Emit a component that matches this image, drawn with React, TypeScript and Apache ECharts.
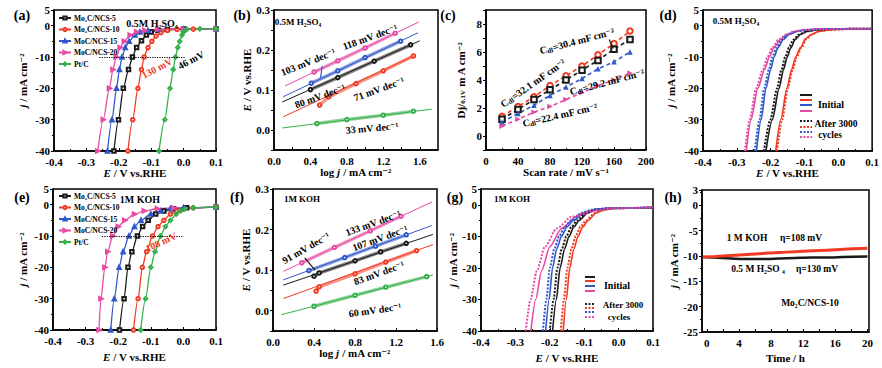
import React, { useEffect, useRef } from 'react';
import * as echarts from 'echarts';

const FONT = '"Liberation Serif", "DejaVu Serif", serif';
const K = '#1a1a1a', R = '#f03a24', B = '#2f57c9', P = '#e64aa3', G = '#34b04a';

// ---------- (a) 0.5 M H2SO4 polarization curves [E V vs RHE, j mA cm-2]
const legendNames = ['Mo₂C/NCS-5', 'Mo₂C/NCS-10', 'MoC/NCS-15', 'MoC/NCS-20', 'Pt/C'];
const aNcs5 = [[-0.215,-40],[-0.201,-30],[-0.186,-20],[-0.17,-14],[-0.158,-10],[-0.145,-7],[-0.13,-4.8],[-0.115,-3],[-0.1,-2],[-0.08,-1.5],[-0.05,-1.2],[0,-1.1],[0.1,-1.0]];
const aNcs10 = [[-0.172,-40],[-0.157,-30],[-0.141,-20],[-0.13,-14],[-0.122,-10],[-0.11,-7],[-0.098,-5],[-0.085,-3.3],[-0.07,-2.2],[-0.05,-1.5],[-0.02,-1.2],[0.03,-1.1],[0.1,-1]];
const aNcs15 = [[-0.235,-40],[-0.221,-30],[-0.207,-20],[-0.198,-14],[-0.19,-10],[-0.18,-7],[-0.168,-5],[-0.15,-3],[-0.135,-2],[-0.11,-1.5],[-0.08,-1.2],[0,-1.1],[0.1,-1]];
const aNcs20 = [[-0.265,-40],[-0.248,-30],[-0.229,-20],[-0.218,-14],[-0.208,-10],[-0.196,-7],[-0.183,-5],[-0.165,-3],[-0.145,-2],[-0.12,-1.5],[-0.08,-1.2],[0,-1.1],[0.1,-1]];
const aPtC = [[-0.076,-40],[-0.058,-30],[-0.042,-20],[-0.032,-14],[-0.025,-10],[-0.018,-7],[-0.012,-5],[-0.005,-3],[0,-2],[0.01,-1.2],[0.05,-1],[0.1,-1]];

// ---------- (b) Tafel 0.5 M H2SO4 [log j, E]
const bFit20 = [[0.12,0.11],[1.59,0.27]];
const bBand20 = [[0.44,0.145],[0.7,0.173],[1.0,0.205],[1.33,0.242]];
const bFit15 = [[0.10,0.083],[1.58,0.243]];
const bBand15 = [[0.41,0.117],[0.7,0.148],[1.0,0.181],[1.39,0.222]];
const bFit5 = [[0.09,0.07],[1.6,0.223]];
const bBand5 = [[0.4,0.101],[0.7,0.131],[1.1,0.172],[1.5,0.213]];
const bFit10 = [[0.1,0.033],[1.56,0.188]];
const bBand10 = [[0.5,0.062],[0.6,0.083],[0.9,0.116],[1.2,0.148],[1.53,0.185]];
const bFitPt = [[0.09,0.005],[1.73,0.052]];
const bBandPt = [[0.47,0.016],[0.8,0.026],[1.2,0.037],[1.53,0.047]];

// ---------- (c) capacitive current vs scan rate
const cRate = [20, 40, 60, 80, 100, 120, 140, 160, 180];
const cRed = [1.4, 2.1, 2.8, 3.6, 4.3, 5.0, 5.8, 6.6, 7.5];
const cBlack = [1.2, 1.9, 2.6, 3.3, 4.0, 4.7, 5.4, 6.2, 6.9];
const cBlue = [1.0, 1.6, 2.2, 2.9, 3.5, 4.1, 4.8, 5.3, 6.0];
const cPink = [0.7, 1.2, 1.7, 2.1, 2.6, 3.1, 3.6, 4.0, 4.5];

// ---------- (d) stability 0.5 M H2SO4, initial / after 3000 cycles
const dK0 = [[-0.214,-40],[-0.195,-30],[-0.175,-20],[-0.162,-14],[-0.151,-10],[-0.14,-7],[-0.128,-4.5],[-0.112,-2.8],[-0.09,-1.8],[-0.06,-1.3],[-0.02,-1.1],[0.05,-1.0],[0.1,-1.0]];
const dR0 = [[-0.185,-40],[-0.17,-30],[-0.152,-20],[-0.138,-14],[-0.126,-10],[-0.112,-7],[-0.097,-4.2],[-0.08,-2.8],[-0.058,-1.8],[-0.03,-1.4],[0.0,-1.2],[0.04,-1.0],[0.1,-1.0]];
const dB0 = [[-0.242,-40],[-0.228,-30],[-0.214,-20],[-0.2,-14],[-0.19,-10],[-0.178,-7],[-0.163,-4.5],[-0.145,-2.8],[-0.12,-1.8],[-0.09,-1.3],[-0.05,-1.1],[0.05,-1],[0.1,-1]];
const dP0 = [[-0.272,-40],[-0.258,-30],[-0.238,-20],[-0.218,-14],[-0.204,-10],[-0.19,-7],[-0.172,-4.5],[-0.15,-2.8],[-0.125,-1.8],[-0.095,-1.3],[-0.05,-1.1],[0.05,-1],[0.1,-1]];
const dK1 = [[-0.22,-40],[-0.201,-30],[-0.181,-20],[-0.168,-14],[-0.157,-10],[-0.146,-7],[-0.133,-4.5],[-0.116,-2.8],[-0.094,-1.8],[-0.064,-1.3],[-0.02,-1.1],[0.05,-1],[0.1,-1]];
const dR1 = [[-0.181,-40],[-0.166,-30],[-0.149,-20],[-0.135,-14],[-0.123,-10],[-0.109,-7],[-0.094,-4.2],[-0.077,-2.8],[-0.055,-1.8],[-0.028,-1.4],[0.0,-1.2],[0.04,-1],[0.1,-1]];
const dB1 = [[-0.247,-40],[-0.233,-30],[-0.219,-20],[-0.205,-14],[-0.195,-10],[-0.183,-7],[-0.168,-4.5],[-0.15,-2.8],[-0.124,-1.8],[-0.093,-1.3],[-0.05,-1.1],[0.05,-1],[0.1,-1]];
const dP1 = [[-0.276,-40],[-0.262,-30],[-0.243,-20],[-0.223,-14],[-0.209,-10],[-0.195,-7],[-0.177,-4.5],[-0.155,-2.8],[-0.13,-1.8],[-0.1,-1.3],[-0.05,-1.1],[0.05,-1],[0.1,-1]];

// ---------- (e) 1 M KOH polarization curves
const eNcs5 = [[-0.196,-40],[-0.182,-30],[-0.17,-20],[-0.158,-15],[-0.141,-10],[-0.125,-7],[-0.108,-5],[-0.085,-3],[-0.06,-2],[-0.03,-1.3],[0.01,-1],[0.1,-0.8]];
const eNcs10 = [[-0.153,-40],[-0.139,-30],[-0.126,-20],[-0.113,-15],[-0.095,-10],[-0.078,-7],[-0.06,-5],[-0.04,-3],[-0.02,-2],[0.0,-1.4],[0.03,-1],[0.1,-0.8]];
const eNcs15 = [[-0.223,-40],[-0.212,-30],[-0.197,-20],[-0.185,-15],[-0.167,-10],[-0.15,-7],[-0.13,-5],[-0.1,-3],[-0.07,-2],[-0.04,-1.3],[0,-1],[0.1,-0.8]];
const eNcs20 = [[-0.259,-40],[-0.253,-30],[-0.241,-20],[-0.232,-15],[-0.217,-10],[-0.2,-7],[-0.18,-5],[-0.15,-3],[-0.12,-2],[-0.08,-1.3],[-0.03,-1],[0.1,-0.8]];
const ePtC = [[-0.131,-40],[-0.116,-30],[-0.1,-20],[-0.087,-15],[-0.07,-10],[-0.055,-7],[-0.04,-5],[-0.022,-3],[-0.008,-2],[0.005,-1.3],[0.03,-1],[0.1,-0.8]];

// ---------- (f) Tafel 1 M KOH
const fFit20 = [[0.1,0.097],[1.55,0.268]];
const fBand20 = [[0.28,0.118],[0.6,0.156],[0.95,0.197],[1.25,0.233]];
const fFit15 = [[0.1,0.076],[1.55,0.21]];
const fBand15 = [[0.35,0.099],[0.7,0.131],[1.0,0.159],[1.3,0.187]];
const fFit5 = [[0.1,0.063],[1.56,0.188]];
const fBand5 = [[0.4,0.085],[0.45,0.093],[0.8,0.123],[1.05,0.145],[1.3,0.166]];
const fFit10 = [[0.1,0.03],[1.56,0.163]];
const fBand10 = [[0.42,0.048],[0.45,0.059],[0.8,0.091],[1.1,0.12],[1.4,0.148]];
const fFitPt = [[0.08,-0.01],[1.56,0.088]];
const fBandPt = [[0.4,0.011],[0.8,0.038],[1.1,0.058],[1.5,0.084]];

// ---------- (g) stability 1 M KOH
const gP0 = [[-0.255,-40],[-0.241,-30],[-0.224,-21],[-0.2,-13.3],[-0.166,-7.5],[-0.123,-3.7],[-0.065,-1.8],[-0.008,-1.1],[0.1,-0.8]];
const gP1 = [[-0.27,-40],[-0.256,-30],[-0.238,-21],[-0.214,-13.3],[-0.18,-7.5],[-0.135,-3.7],[-0.075,-1.8],[-0.012,-1.1],[0.1,-0.8]];
const gB0 = [[-0.212,-40],[-0.202,-30],[-0.192,-20],[-0.18,-14],[-0.166,-10],[-0.15,-7],[-0.132,-5],[-0.1,-2.5],[-0.07,-1.5],[-0.03,-1.1],[0.1,-0.9]];
const gB1 = [[-0.22,-40],[-0.21,-30],[-0.2,-20],[-0.187,-14],[-0.173,-10],[-0.157,-7],[-0.139,-5],[-0.106,-2.5],[-0.075,-1.5],[-0.03,-1.1],[0.1,-0.9]];
const gK0 = [[-0.192,-40],[-0.181,-30],[-0.17,-20],[-0.157,-14],[-0.144,-10],[-0.13,-7],[-0.115,-5],[-0.09,-2.6],[-0.065,-1.5],[-0.02,-1.1],[0.1,-0.9]];
const gK1 = [[-0.2,-40],[-0.189,-30],[-0.178,-20],[-0.165,-14],[-0.152,-10],[-0.137,-7],[-0.121,-5],[-0.095,-2.6],[-0.068,-1.5],[-0.02,-1.1],[0.1,-0.9]];
const gR0 = [[-0.161,-40],[-0.152,-30],[-0.142,-20],[-0.13,-14],[-0.118,-10],[-0.104,-7],[-0.089,-5],[-0.065,-2.6],[-0.04,-1.6],[-0.008,-1.1],[0.1,-0.9]];
const gR1 = [[-0.168,-40],[-0.159,-30],[-0.149,-20],[-0.137,-14],[-0.125,-10],[-0.111,-7],[-0.095,-5],[-0.07,-2.6],[-0.044,-1.6],[-0.01,-1.1],[0.1,-0.9]];

// ---------- (h) chronoamperometry [time h, j]
const hKOH = [[-0.5,-10.2],[1,-10.1],[3,-9.9],[5,-9.7],[7,-9.5],[9,-9.3],[11,-9.2],[13,-9.0],[15,-8.9],[17,-8.7],[20,-8.5]];
const hH2SO4 = [[-0.5,-10.2],[1,-10.3],[3,-10.5],[5,-10.6],[7,-10.6],[9,-10.5],[11,-10.4],[13,-10.3],[15,-10.3],[17,-10.2],[20,-10.1]];

// tick label sets
const tafelXLabels = [0, 0.4, 0.8, 1.2, 1.6];
const tafelXTicks = [0, 0.2, 0.4, 0.6, 0.8, 1.0, 1.2, 1.4, 1.6];
const tafelYLabels = [0, 0.1, 0.2, 0.3];
const tafelYTicks = [-0.05, 0, 0.05, 0.1, 0.15, 0.2, 0.25, 0.3];
const cYLabels = [0, 2, 4, 6, 8];
const cYTicks = [-1, 0, 1, 2, 3, 4, 5, 6, 7, 8, 9];
const hXLabels = [0, 4, 8, 12, 16, 20];
const hXTicks = [0, 2, 4, 6, 8, 10, 12, 14, 16, 18, 20];

const txtBase = { color: '#000', fontSize: 11, fontWeight: 'bold', fontFamily: FONT };
const richDefs = {
  i: { ...txtBase, fontStyle: 'italic' },
  s: { ...txtBase, fontSize: 7, verticalAlign: 'bottom', padding: [4, 0, 0, 0] },
};
const fmt1 = (v: number) => (Math.abs(v) < 1e-9 ? '0.0' : v.toFixed(1));

const grids = [
  { left: 54, top: 10, width: 162, height: 141 },
  { left: 274, top: 10, width: 164, height: 140 },
  { left: 486, top: 10, width: 160, height: 140 },
  { left: 703, top: 10, width: 170, height: 141 },
  { left: 53, top: 189, width: 163, height: 141 },
  { left: 273, top: 189, width: 164, height: 142 },
  { left: 481, top: 189, width: 172, height: 142 },
  { left: 702, top: 190, width: 167, height: 142 },
].map((g) => ({ ...g, show: true, borderColor: '#000', borderWidth: 1.5, backgroundColor: 'transparent' }));

function xAx(gi: number, o: any) {
  return {
    type: 'value', gridIndex: gi,
    axisLine: { show: true, onZero: false, lineStyle: { color: '#000', width: 1.5 } },
    axisTick: { show: true, inside: true, length: 3, lineStyle: { color: '#000' }, ...(o.tickCV ? { customValues: o.tickCV } : {}) },
    minorTick: { show: !o.tickCV, splitNumber: 2, length: 2, lineStyle: { color: '#000' } },
    splitLine: { show: false },
    axisLabel: { ...txtBase, margin: 5, ...(o.fmt ? { formatter: o.fmt } : {}), ...(o.labelCV ? { customValues: o.labelCV } : {}) },
    nameLocation: 'middle', nameTextStyle: { ...txtBase, rich: richDefs },
    min: o.min, max: o.max, ...(o.interval ? { interval: o.interval } : {}),
    name: o.name, nameGap: o.nameGap,
  };
}
function yAx(gi: number, o: any) {
  return {
    type: 'value', gridIndex: gi,
    axisLine: { show: true, onZero: false, lineStyle: { color: '#000', width: 1.5 } },
    axisTick: { show: true, inside: false, length: 3, lineStyle: { color: '#000' }, ...(o.tickCV ? { customValues: o.tickCV } : {}) },
    minorTick: { show: !o.tickCV, splitNumber: 2, length: 2, lineStyle: { color: '#000' } },
    splitLine: { show: false },
    axisLabel: { ...txtBase, margin: 4, ...(o.fmt ? { formatter: o.fmt } : {}), ...(o.labelCV ? { customValues: o.labelCV } : {}) },
    nameLocation: 'middle', nameRotate: 90, nameTextStyle: { ...txtBase, rich: richDefs },
    min: o.min, max: o.max, ...(o.interval ? { interval: o.interval } : {}),
    name: o.name, nameGap: o.nameGap,
  };
}

const E_NAME = '{i|E} / V vs.RHE';
const J_NAME = '{i|j} / mA cm⁻²';

function lsv(name: string, data: number[][], color: string, symbol: string, gi: number, rot = 0, extra: any = {}) {
  return {
    type: 'line', name, data, xAxisIndex: gi, yAxisIndex: gi, smooth: 0.25, smoothMonotone: 'x',
    symbol, symbolSize: 3.5, symbolRotate: rot, showSymbol: true,
    lineStyle: { color, width: 1.3 }, itemStyle: { color, borderWidth: 0.9 }, z: 3, silent: true, ...extra,
  };
}
function stab(data: number[][], color: string, gi: number, dotted: boolean) {
  return {
    type: 'line', data, xAxisIndex: gi, yAxisIndex: gi, smooth: 0.25, smoothMonotone: 'x', showSymbol: false,
    lineStyle: { color, width: dotted ? 2 : 1.6, type: dotted ? [2, 1.5] : 'solid' }, silent: true,
  };
}
function fit(data: number[][], color: string, gi: number) {
  return { type: 'line', data, xAxisIndex: gi, yAxisIndex: gi, showSymbol: false, lineStyle: { color, width: 1 }, silent: true };
}
function band(data: number[][], color: string, gi: number) {
  return {
    type: 'line', data, xAxisIndex: gi, yAxisIndex: gi, symbol: 'emptyCircle', symbolSize: 3.5, showSymbol: true,
    lineStyle: { color, width: 3.5, opacity: 0.55 }, itemStyle: { color, borderWidth: 0.8 }, silent: true,
  };
}
function arrow(from: number[], to: number[], color: string) {
  return {
    silent: true, symbol: ['none', 'arrow'], symbolSize: [0, 5], label: { show: false },
    lineStyle: { color, width: 1.2, type: 'solid' }, data: [[{ coord: from }, { coord: to }]],
  };
}
function hline(x0: number, x1: number, y: number) {
  return {
    silent: true, symbol: ['none', 'none'], label: { show: false },
    lineStyle: { color: '#000', width: 1.2, type: 'dotted' }, data: [[{ coord: [x0, y] }, { coord: [x1, y] }]],
  };
}

function txt(text: string, x: number, y: number, size = 10, rot = 0, color = '#000', rich: any = null) {
  return {
    type: 'text', x, y, rotation: (rot * Math.PI) / 180, z: 100, silent: true,
    style: {
      text, fontSize: size, fontWeight: 'bold', fontFamily: FONT, fill: color, align: 'center', verticalAlign: 'middle',
      ...(rich ? { rich } : {}),
    },
  };
}
function legLine(x1: number, x2: number, y: number, color: string, dotted: boolean) {
  return {
    type: 'line', z: 100, silent: true, shape: { x1, y1: y, x2, y2: y },
    style: { stroke: color, lineWidth: 2, lineDash: dotted ? [2, 1.5] : null },
  };
}
const cdlRich = { s: { fontSize: 7, fontWeight: 'bold', fontFamily: FONT, fill: '#000', padding: [5, 0, 0, 0] } };

export default function App() {
  const ref = useRef<HTMLDivElement>(null);
  useEffect(() => {
    if (!ref.current) return;
    const chart = echarts.init(ref.current, null, { renderer: 'svg' });
    const legendCommon = {
      orient: 'vertical', itemWidth: 12, itemHeight: 4, itemGap: 3.5, padding: 0, selectedMode: false,
      data: legendNames, textStyle: { color: '#000', fontSize: 7.5, fontWeight: 'bold', fontFamily: FONT, padding: [0, 0, 0, -2] },
    };
    const option: any = {
      animation: false,
      backgroundColor: '#fff',
      grid: grids,
      legend: [
        { ...legendCommon, left: 58, top: 14 },
        { ...legendCommon, left: 58, top: 192 },
      ],
      xAxis: [
        xAx(0, { min: -0.4, max: 0.1, interval: 0.1, fmt: fmt1, name: E_NAME, nameGap: 16 }),
        xAx(1, { min: 0, max: 1.8, labelCV: tafelXLabels, tickCV: tafelXTicks, fmt: fmt1, name: 'log {i|j} / mA cm⁻²', nameGap: 16 }),
        xAx(2, { min: 0, max: 200, interval: 40, name: 'Scan rate / mV s⁻¹', nameGap: 16 }),
        xAx(3, { min: -0.4, max: 0.1, interval: 0.1, fmt: fmt1, name: E_NAME, nameGap: 16 }),
        xAx(4, { min: -0.4, max: 0.1, interval: 0.1, fmt: fmt1, name: E_NAME, nameGap: 21 }),
        xAx(5, { min: 0, max: 1.6, interval: 0.4, fmt: fmt1, name: 'log {i|j} / mA cm⁻²', nameGap: 14 }),
        xAx(6, { min: -0.4, max: 0.1, interval: 0.1, fmt: fmt1, name: E_NAME, nameGap: 21 }),
        xAx(7, { min: -0.6, max: 20.2, labelCV: hXLabels, tickCV: hXTicks, name: 'Time / h', nameGap: 20 }),
      ],
      yAxis: [
        yAx(0, { min: -40, max: 5, interval: 10, name: J_NAME, nameGap: 26 }),
        yAx(1, { min: -0.05, max: 0.3, labelCV: tafelYLabels, tickCV: tafelYTicks, fmt: fmt1, name: E_NAME, nameGap: 21 }),
        yAx(2, { min: -1, max: 9, labelCV: cYLabels, tickCV: cYTicks, name: 'Dj/{s|0.1V} m A cm⁻²', nameGap: 20 }),
        yAx(3, { min: -40, max: 5, interval: 10, name: J_NAME, nameGap: 27 }),
        yAx(4, { min: -40, max: 5, interval: 10, name: J_NAME, nameGap: 25 }),
        yAx(5, { min: -0.05, max: 0.3, labelCV: tafelYLabels, tickCV: tafelYTicks, fmt: fmt1, name: E_NAME, nameGap: 20 }),
        yAx(6, { min: -40, max: 5, interval: 10, name: J_NAME, nameGap: 22 }),
        yAx(7, { min: -25, max: 3, interval: 5, name: J_NAME, nameGap: 22 }),
      ],
      series: [
        // (a)
        lsv(legendNames[0], aNcs5, K, 'emptyRect', 0),
        lsv(legendNames[1], aNcs10, R, 'emptyCircle', 0),
        lsv(legendNames[2], aNcs15, B, 'emptyTriangle', 0),
        lsv(legendNames[3], aNcs20, P, 'emptyTriangle', 0, -90),
        lsv(legendNames[4], aPtC, G, 'emptyDiamond', 0, 0, { markLine: hline(-0.26, 0.005, -10) }),
        // (b)
        fit(bFit20, P, 1), band(bBand20, P, 1),
        fit(bFit15, B, 1), { ...band(bBand15, B, 1), markLine: arrow([0.53, 0.16], [0.51, 0.13], B) },
        fit(bFit5, K, 1), band(bBand5, K, 1),
        fit(bFit10, R, 1), band(bBand10, R, 1),
        fit(bFitPt, G, 1), band(bBandPt, G, 1),
        // (c)
        ...[
          [cRed, R, 'emptyCircle', 0],
          [cBlack, K, 'emptyRect', 0],
          [cBlue, B, 'triangle', 0],
          [cPink, P, 'triangle', -90],
        ].map(([vals, color, sym, rot]: any, idx) => ({
          type: 'line', xAxisIndex: 2, yAxisIndex: 2, silent: true,
          data: cRate.map((r, i) => [r, vals[i]]),
          symbol: sym, symbolSize: 5.5, symbolRotate: rot, showSymbol: true,
          lineStyle: { color, width: 1.6, type: [4, 3] }, itemStyle: { color, borderWidth: 1.1 },
          ...(idx === 1 ? { markLine: arrow([154, 6.9], [159, 6.25], K) } : {}),
        })),
        // (d)
        stab(dK0, K, 3, false), stab(dR0, R, 3, false), stab(dB0, B, 3, false), stab(dP0, P, 3, false),
        stab(dK1, K, 3, true), stab(dR1, R, 3, true), stab(dB1, B, 3, true), stab(dP1, P, 3, true),
        // (e)
        lsv(legendNames[0], eNcs5, K, 'emptyRect', 4),
        lsv(legendNames[1], eNcs10, R, 'emptyCircle', 4),
        lsv(legendNames[2], eNcs15, B, 'emptyTriangle', 4),
        lsv(legendNames[3], eNcs20, P, 'emptyTriangle', 4, -90),
        lsv(legendNames[4], ePtC, G, 'emptyDiamond', 4, 0, { markLine: hline(-0.25, 0.0, -10) }),
        // (f)
        fit(fFit20, P, 5), band(fBand20, P, 5),
        fit(fFit15, B, 5), band(fBand15, B, 5),
        fit(fFit5, K, 5), { ...band(fBand5, K, 5), markLine: arrow([0.31, 0.13], [0.41, 0.1], K) },
        fit(fFit10, R, 5), band(fBand10, R, 5),
        fit(fFitPt, G, 5), band(fBandPt, G, 5),
        // (g)
        stab(gK0, K, 6, false), stab(gR0, R, 6, false), stab(gB0, B, 6, false), stab(gP0, P, 6, false),
        stab(gK1, K, 6, true), stab(gR1, R, 6, true), stab(gB1, B, 6, true), stab(gP1, P, 6, true),
        // (h)
        { type: 'line', data: hH2SO4, xAxisIndex: 7, yAxisIndex: 7, showSymbol: false, smooth: 0.3, lineStyle: { color: K, width: 2.5 }, silent: true },
        { type: 'line', data: hKOH, xAxisIndex: 7, yAxisIndex: 7, showSymbol: false, smooth: 0.3, lineStyle: { color: R, width: 3 }, silent: true },
      ],
      graphic: [
        // panel labels
        txt('(a)', 22, 15, 14), txt('(b)', 242, 15, 14), txt('(c)', 448, 15, 14), txt('(d)', 668, 15, 14),
        txt('(e)', 22, 197, 14), txt('(f)', 237, 197, 14), txt('(g)', 455, 197, 14), txt('(h)', 673, 197, 14),
        // (a)
        txt('0.5M H₂SO₄', 152, 23, 10),
        txt('130 mV', 157, 68, 10, 28, R),
        txt('46 mV', 191, 60, 10, 28, '#000'),
        // (b)
        txt('0.5M H₂SO₄', 298, 22, 9),
        txt('118 mV dec⁻¹', 370, 37, 10, 20),
        txt('103 mV dec⁻¹', 308, 62, 10, 22),
        txt('80 mV dec⁻¹', 320, 96, 10, 20),
        txt('71 mV dec⁻¹', 379, 89, 10, 20),
        txt('33 mV dec⁻¹', 372, 128, 10, 5),
        // (c)
        txt('C{s|dl}=30.4 mF cm⁻²', 577, 41, 10, 15, '#000', cdlRich),
        txt('C{s|dl}=32.1 mF cm⁻²', 533, 83, 10, 35, '#000', cdlRich),
        txt('C{s|dl}=29.2 mF cm⁻²', 607, 82, 10, 15, '#000', cdlRich),
        txt('C{s|dl}=22.4 mF cm⁻²', 560, 115, 10, 13, '#000', cdlRich),
        // (d)
        txt('0.5M H₂SO₄', 736, 21, 9),
        legLine(800, 812, 95, K, false), legLine(800, 812, 100, R, false), legLine(800, 812, 105, B, false), legLine(800, 812, 111, P, false),
        txt('Initial', 831, 104, 10),
        legLine(800, 812, 121, K, true), legLine(800, 812, 127, R, true), legLine(800, 812, 132, B, true), legLine(800, 812, 137, P, true),
        txt('After 3000', 836, 124, 9.5), txt('cycles', 830, 135, 9.5),
        // (e)
        txt('1M KOH', 140, 199, 10),
        txt('108 mV', 161, 242, 10, 25, R),
        // (f)
        txt('1M KOH', 302, 199, 9),
        txt('133 mV dec⁻¹', 373, 223, 10, 20),
        txt('107 mV dec⁻¹', 380, 238, 10, 20),
        txt('91 mV dec⁻¹', 306, 248, 10, 30),
        txt('83 mV dec⁻¹', 379, 273, 10, 20),
        txt('60 mV dec⁻¹', 375, 310, 10, 8),
        // (g)
        txt('1M KOH', 512, 199, 9),
        legLine(585, 595, 277, K, false), legLine(585, 595, 281, R, false), legLine(585, 595, 286, B, false), legLine(585, 595, 291, P, false),
        txt('Initial', 617, 285, 10),
        legLine(585, 595, 304, K, true), legLine(585, 595, 308, R, true), legLine(585, 595, 312, B, true), legLine(585, 595, 317, P, true),
        txt('After 3000', 623, 305, 9), txt('cycles', 619, 317, 9),
        // (h)
        txt('1 M KOH', 747, 238, 9.5), txt('η=108 mV', 801, 238, 9.5),
        txt('0.5 M H₂SO ₄', 758, 269, 9.5), txt('η=130 mV', 817, 269, 9.5),
        txt('Mo₂C/NCS-10', 810, 303, 9.5),
      ],
    };
    chart.setOption(option);
    return () => chart.dispose();
  }, []);
  return <div ref={ref} style={{ position: 'fixed', left: 0, top: 0, width: 882, height: 368 }} />;
}
